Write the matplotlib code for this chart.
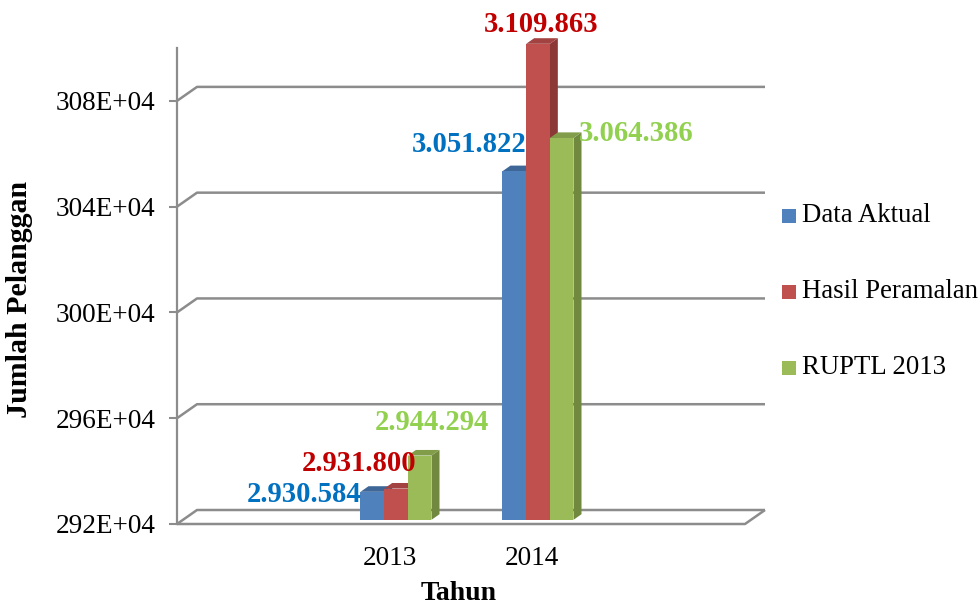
import matplotlib
matplotlib.use("Agg")
import matplotlib.pyplot as plt
from matplotlib.patches import Polygon, Rectangle
from matplotlib.transforms import IdentityTransform, offset_copy
from matplotlib.lines import Line2D

# ---- data ----
categories = ["", "2013", "2014", ""]
series_names = ["Data Aktual", "Hasil Peramalan", "RUPTL 2013"]
data_aktual = [2930584, 3051822]
hasil_peramalan = [2931800, 3109863]
ruptl_2013 = [2944294, 3064386]
value_labels = [["2.930.584", "3.051.822"],
                ["2.931.800", "3.109.863"],
                ["2.944.294", "3.064.386"]]
y_ticks = [2920000, 2960000, 3000000, 3040000, 3080000]
y_tick_labels = ["292E+04", "296E+04", "300E+04", "304E+04", "308E+04"]
y_min, y_max = 2920000, 3100000

# ---- style ----
W, H = 979, 607
FONT = "Liberation Serif"
plt.rcParams["font.family"] = [FONT, "DejaVu Serif"]
face = ["#4F81BD", "#C0504D", "#9BBB59"]
side = ["#385D8A", "#8C3836", "#71893F"]
top = ["#3E6798", "#A34341", "#829D4A"]
label_colors = ["#0070C0", "#C00000", "#92D050"]
GRID = "#8C8C8C"
DX, DY = 20.0, 14.0          # full depth of the 3-D box, in pixels
F0, F1 = 0.3, 0.7            # front / back depth fraction of the bars
FS = 19.6

fig = plt.figure(figsize=(W / 100, H / 100), dpi=100)
fig.patch.set_facecolor("white")
ax = fig.add_axes([177 / W, 1 - 524 / H, (745 - 177) / W, (524 - 48) / H])
ax.set_xlim(-0.5, len(categories) - 0.5)
ax.set_ylim(y_min, y_max)
ax.patch.set_alpha(0)
for s in ["top", "right", "bottom"]:
    ax.spines[s].set_visible(False)
ax.spines["left"].set_color(GRID)
ax.spines["left"].set_linewidth(1.6)
ax.set_yticks(y_ticks)
ax.set_yticklabels(y_tick_labels, fontsize=FS)
ax.tick_params(axis="y", direction="out", length=5.8, width=1.5, color=GRID, pad=9.6)
ax.set_xticks([1, 2])
ax.set_xticklabels(categories[1:3], fontsize=FS)
ax.tick_params(axis="x", length=0, pad=15.5)

ident = IdentityTransform()


def disp(x, v, depth=0.0):
    px, py = ax.transData.transform((x, v))
    return (px + depth * DX, py + depth * DY)


def line(pts, **kw):
    xs = [p[0] for p in pts]
    ys = [p[1] for p in pts]
    ax.add_line(Line2D(xs, ys, transform=ident, color=GRID, lw=1.8,
                       clip_on=False, solid_capstyle="butt", **kw))


x0, x1 = ax.get_xlim()
# back-wall gridlines with the side-wall diagonals
for t in y_ticks:
    line([disp(x0, t, 0), disp(x0, t, 1), disp(x1, t, 1)], zorder=1)
# floor outline
line([disp(x0, y_min, 0), disp(x1, y_min, 0), disp(x1, y_min, 1)], zorder=1)

# ---- bars ----
all_series = [data_aktual, hasil_peramalan, ruptl_2013]
bw = 1.0 / 6
positions = [1, 2]
front_tr = offset_copy(ax.transData, fig=fig, x=F0 * DX, y=F0 * DY, units="dots")
label_offsets = [[(-68, -3), (-45, 27)],
                 [(-37, 25), (3, 19)],
                 [(12, 33), (75, 4)]]
z = 3
for i, pos in enumerate(positions):
    for j, vals in enumerate(all_series):
        v = min(vals[i], y_max)
        xc = pos + (j - 1) * bw
        xl, xr = xc - bw / 2, xc + bw / 2
        # right side face
        sp = [disp(xr, y_min, F0), disp(xr, y_min, F1), disp(xr, v, F1), disp(xr, v, F0)]
        ax.add_patch(Polygon(sp, closed=True, transform=ident, facecolor=side[j],
                             edgecolor="none", clip_on=False, zorder=z))
        # top face
        tp = [disp(xl, v, F0), disp(xr, v, F0), disp(xr, v, F1), disp(xl, v, F1)]
        ax.add_patch(Polygon(tp, closed=True, transform=ident, facecolor=top[j],
                             edgecolor="none", clip_on=False, zorder=z))
        # front face
        ax.bar(xc, v - y_min, bottom=y_min, width=bw, color=face[j], transform=front_tr,
               clip_on=False, zorder=z + 0.5, linewidth=0)
        z += 1
        # value label
        ox, oy = label_offsets[j][i]
        ax.annotate(value_labels[j][i], xy=(xc, v), xycoords=front_tr,
                    xytext=(ox, oy), textcoords="offset pixels",
                    ha="center", va="center", fontsize=20.6, fontweight="bold",
                    color=label_colors[j], zorder=20, annotation_clip=False)

# ---- axis titles ----
fig.text(20 / W, 1 - 299 / H, "Jumlah Pelanggan", rotation=90, ha="center", va="center",
         fontsize=21.5, fontweight="bold")
fig.text(459 / W, 1 / H, "Tahun", ha="center", va="bottom",
         fontsize=20.0, fontweight="bold")

# ---- legend ----
leg_y = [216, 292, 368]
for j, name in enumerate(series_names):
    fig.patches.append(Rectangle((782 / W, 1 - (leg_y[j] + 7) / H), 14 / W, 14 / H,
                                 transform=fig.transFigure, facecolor=face[j],
                                 edgecolor="none"))
    fig.text(802 / W, 1 - leg_y[j] / H, name, ha="left", va="center", fontsize=19.3)

fig.savefig("out.png", dpi=100, facecolor="white")
